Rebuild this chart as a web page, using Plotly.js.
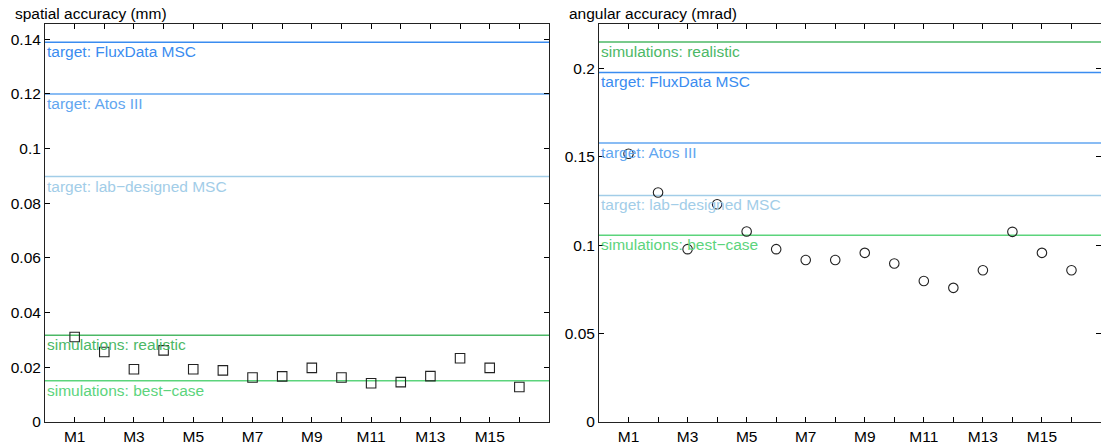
<!DOCTYPE html>
<html>
<head>
<meta charset="utf-8">
<script src="https://cdn.plot.ly/plotly-3.0.1.min.js"></script>
<style>
  html, body { margin: 0; padding: 0; background: #fff; }
  #chart { width: 1101px; height: 444px; }
</style>
</head>
<body>
<div id="chart"></div>
<script>
// ---- data ----
const categories = ['M1','M2','M3','M4','M5','M6','M7','M8','M9','M10','M11','M12','M13','M14','M15','M16'];
const tickLabels = ['M1','','M3','','M5','','M7','','M9','','M11','','M13','','M15',''];

const spatialAccuracy = [0.0311, 0.0256, 0.0193, 0.0262, 0.0193, 0.0189, 0.0163, 0.0167,
                         0.0198, 0.0163, 0.0142, 0.0146, 0.0168, 0.0233, 0.0198, 0.0128];
const angularAccuracy = [0.1518, 0.1299, 0.0978, 0.1232, 0.1078, 0.0978, 0.0917, 0.0917,
                         0.0957, 0.0897, 0.0798, 0.0759, 0.0859, 0.1076, 0.0957, 0.0859];

const refNames = ['target: FluxData MSC', 'target: Atos III', 'target: lab\u2212designed MSC',
                  'simulations: realistic', 'simulations: best\u2212case'];
const refColors = ['#3a8cf0', '#62a6f0', '#a2cde8', '#4cb866', '#5cd47c'];
const spatialRefs = [0.1389, 0.1200, 0.0898, 0.0317, 0.0151];
const angularRefs = [0.1978, 0.1578, 0.1282, 0.2150, 0.1057];

const panelTitles = ['spatial accuracy (mm)', 'angular accuracy (mrad)'];

// ---- build ----
const xPos = categories.map((c, i) => i + 1);
const FONT = 'Liberation Sans, Arial, sans-serif';
const FS = 15.5;

const traces = [
  { x: xPos, y: spatialAccuracy, text: categories, type: 'scatter', mode: 'markers',
    xaxis: 'x', yaxis: 'y',
    marker: { symbol: 'square-open', size: 9.5, color: '#222', line: { width: 1.1, color: '#222' } },
    hoverinfo: 'text+y', showlegend: false },
  { x: xPos, y: angularAccuracy, text: categories, type: 'scatter', mode: 'markers',
    xaxis: 'x2', yaxis: 'y2',
    marker: { symbol: 'circle-open', size: 9.5, color: '#222', line: { width: 1.1, color: '#222' } },
    hoverinfo: 'text+y', showlegend: false }
];

const shapes = [];
const annotations = [];
function addRefs(vals, xr, yr) {
  vals.forEach((v, i) => {
    shapes.push({ type: 'line', xref: xr + ' domain', x0: 0, x1: 1, yref: yr, y0: v, y1: v,
                  line: { color: refColors[i], width: 1.5 }, layer: 'below' });
    annotations.push({ xref: xr + ' domain', x: 0, xanchor: 'left', xshift: 0,
                       yref: yr, y: v, yanchor: 'top', yshift: 1, showarrow: false,
                       text: refNames[i], font: { family: FONT, size: FS, color: refColors[i] } });
  });
}
addRefs(spatialRefs, 'x', 'y');
addRefs(angularRefs, 'x2', 'y2');

annotations.push({ xref: 'paper', x: 15 / 1101, xanchor: 'left', xshift: -2, yref: 'paper', y: 1,
                   yanchor: 'bottom', yshift: 0, showarrow: false, text: panelTitles[0],
                   font: { family: FONT, size: FS, color: '#000' } });
annotations.push({ xref: 'paper', x: 569 / 1101, xanchor: 'left', xshift: -2, yref: 'paper', y: 1,
                   yanchor: 'bottom', yshift: 0, showarrow: false, text: panelTitles[1],
                   font: { family: FONT, size: FS, color: '#000' } });

const xCommon = {
  range: [0, 17], tickmode: 'array', tickvals: xPos, ticktext: tickLabels,
  ticks: 'inside', ticklen: 5, tickcolor: '#000', tickwidth: 1,
  showline: true, linecolor: '#222', linewidth: 1, mirror: 'ticks',
  showgrid: false, zeroline: false,
  tickfont: { family: FONT, size: FS, color: '#000' }
};
const yCommon = {
  ticks: 'inside', ticklen: 5, tickcolor: '#000', tickwidth: 1,
  showline: true, linecolor: '#222', linewidth: 1, mirror: 'ticks',
  showgrid: false, zeroline: false,
  tickfont: { family: FONT, size: FS, color: '#000' }
};

const layout = {
  width: 1101, height: 444,
  margin: { l: 0, r: 0, t: 24, b: 22 },
  paper_bgcolor: '#fff', plot_bgcolor: '#fff',
  showlegend: false,
  font: { family: FONT, size: FS, color: '#000' },
  xaxis: Object.assign({}, xCommon, { domain: [45 / 1101, 549 / 1101], anchor: 'y' }),
  yaxis: Object.assign({}, yCommon, { range: [0, 0.1456], anchor: 'x',
           tickvals: [0, 0.02, 0.04, 0.06, 0.08, 0.1, 0.12, 0.14],
           ticktext: ['0', '0.02', '0.04', '0.06', '0.08', '0.1', '0.12', '0.14'] }),
  xaxis2: Object.assign({}, xCommon, { domain: [599 / 1101, 1], anchor: 'y2' }),
  yaxis2: Object.assign({}, yCommon, { range: [0, 0.2252], anchor: 'x2',
           tickvals: [0, 0.05, 0.1, 0.15, 0.2],
           ticktext: ['0', '0.05', '0.1', '0.15', '0.2'] }),
  shapes: shapes,
  annotations: annotations
};

Plotly.newPlot('chart', traces, layout, { displayModeBar: false, staticPlot: true });
</script>
</body>
</html>
